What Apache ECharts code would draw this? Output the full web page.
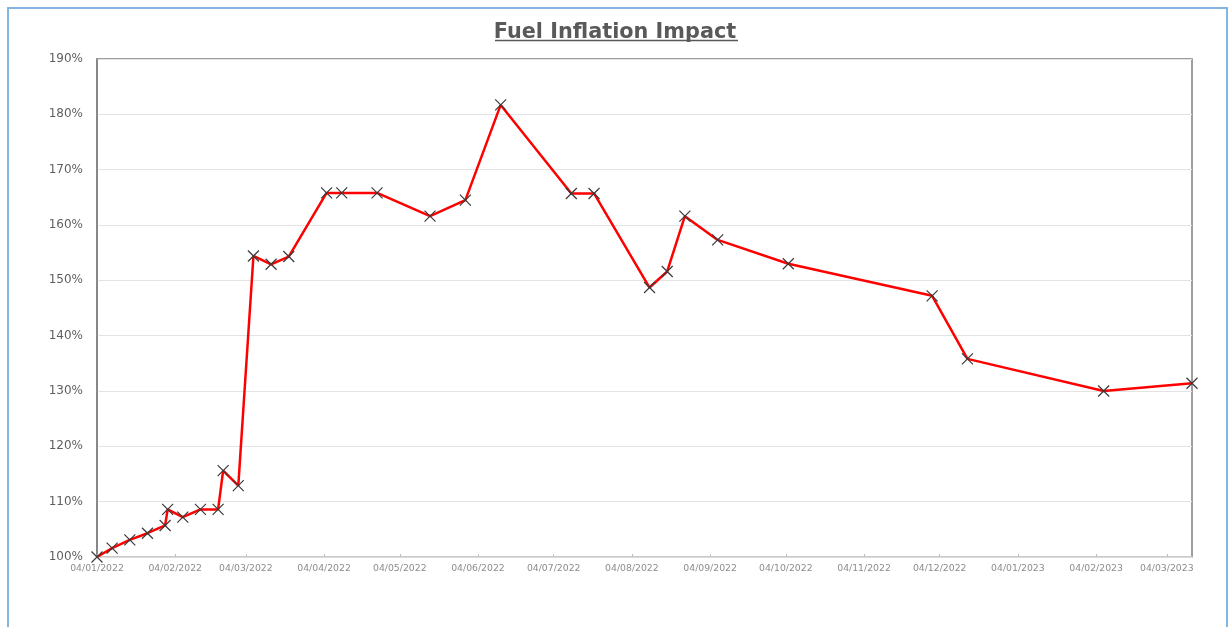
<!DOCTYPE html>
<html>
<head>
<meta charset="utf-8">
<script src="https://cdn.jsdelivr.net/npm/echarts@6/dist/echarts.min.js"></script>
<style>
html,body{margin:0;padding:0;background:#fff;}
#c{width:1230px;height:627px;}
</style>
</head>
<body>
<div id="c"></div>
<script>
const dates = ['2022-01-04','2022-01-10','2022-01-17','2022-01-24','2022-01-31','2022-02-01','2022-02-07','2022-02-14','2022-02-21','2022-02-23','2022-03-01','2022-03-07','2022-03-14','2022-03-21','2022-04-05','2022-04-11','2022-04-25','2022-05-16','2022-05-30','2022-06-13','2022-07-11','2022-07-20','2022-08-11','2022-08-18','2022-08-25','2022-09-07','2022-10-05','2022-12-01','2022-12-15','2023-02-07','2023-03-14'];
const values = [100, 101.6, 103.1, 104.3, 105.7, 108.6, 107.2, 108.6, 108.6, 115.6, 112.9, 154.4, 152.9, 154.3, 165.8, 165.8, 165.8, 161.6, 164.5, 181.7, 165.7, 165.7, 148.7, 151.6, 161.6, 157.3, 153.0, 147.2, 135.8, 130.0, 131.4];
const tickDates = ['2022-01-04','2022-02-04','2022-03-04','2022-04-04','2022-05-04','2022-06-04','2022-07-04','2022-08-04','2022-09-04','2022-10-04','2022-11-04','2022-12-04','2023-01-04','2023-02-04','2023-03-04'];
const xMin = '2022-01-04';
const xMax = '2023-03-14';
const yMin = 100, yMax = 190, yStep = 10;

function toMs(s){ const p = s.split('-').map(Number); return Date.UTC(p[0], p[1]-1, p[2]); }
function fmt(ms){
  const d = new Date(ms);
  const dd = String(d.getUTCDate()).padStart(2,'0');
  const mm = String(d.getUTCMonth()+1).padStart(2,'0');
  return dd + '/' + mm + '/' + d.getUTCFullYear();
}
const seriesData = dates.map((d,i)=>[toMs(d), values[i]]);
const ticks = tickDates.map(toMs);

const chart = echarts.init(document.getElementById('c'), null, {renderer:'canvas'});
chart.setOption({
  animation:false,
  backgroundColor:'#fff',
  title:{
    text:'Fuel Inflation Impact',
    left:'center',
    top:17,
    textStyle:{fontFamily:'DejaVu Sans',fontWeight:'bold',fontSize:20.8,color:'#595959'}
  },
  graphic:[
    {type:'rect',shape:{x:8,y:8,width:1219,height:650},style:{fill:'none',stroke:'#83b5e3',lineWidth:2},silent:true},
    {type:'line',shape:{x1:495,y1:40.5,x2:738,y2:40.5},style:{stroke:'#595959',lineWidth:1.5},silent:true}
  ],
  grid:{left:97,right:38,top:59,bottom:70,show:true,borderColor:'#7f7f7f',borderWidth:1.5,backgroundColor:'transparent'},
  xAxis:{
    type:'value',
    min:toMs(xMin),
    max:toMs(xMax),
    splitLine:{show:false},
    axisLine:{show:true,lineStyle:{color:'#d9d9d9',width:1.5}},
    axisTick:{show:true,inside:true,length:3,customValues:ticks,lineStyle:{color:'#bfbfbf'}},
    axisLabel:{customValues:ticks,formatter:v=>fmt(v),fontFamily:'DejaVu Sans',fontSize:9.3,color:'#8c8c8c',margin:7}
  },
  yAxis:{
    type:'value',
    min:yMin,max:yMax,interval:yStep,
    axisLine:{show:true,lineStyle:{color:'#7f7f7f',width:1.5}},
    axisTick:{show:false},
    splitLine:{show:true,lineStyle:{color:'#e3e3e3',width:1.2}},
    axisLabel:{formatter:v=>Math.round(v)+'%',fontFamily:'DejaVu Sans',fontSize:12,color:'#5f5f5f',margin:14}
  },
  series:[{
    type:'line',
    data:seriesData,
    lineStyle:{color:'#ff0000',width:2.5},
    symbol:'path://M0,0L10,10M10,0L0,10',
    symbolSize:11,
    showAllSymbol:true,
    itemStyle:{color:'rgba(0,0,0,0)',borderColor:'#3a3a3a',borderWidth:1.2},
    z:3
  }]
});
</script>
</body>
</html>
